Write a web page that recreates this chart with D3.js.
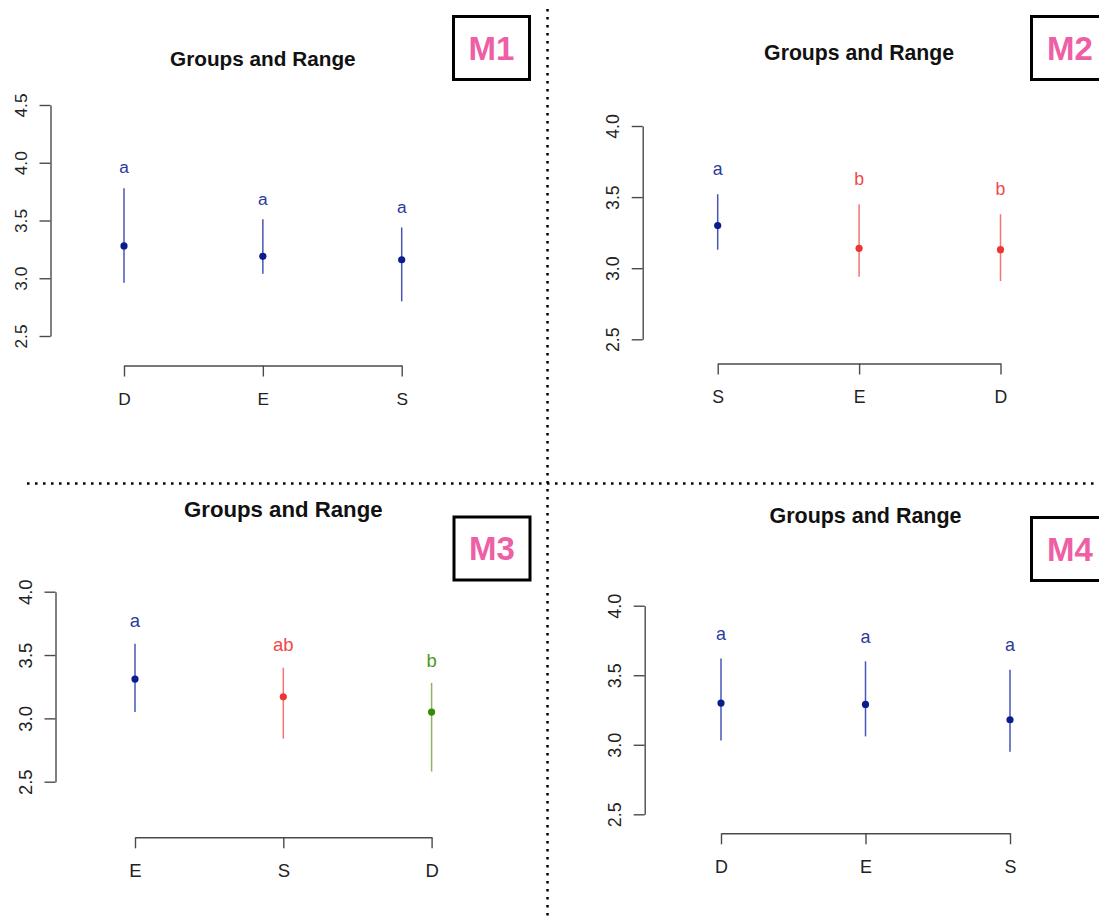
<!DOCTYPE html>
<html>
<head>
<meta charset="utf-8">
<script src="https://cdn.jsdelivr.net/npm/d3@7"></script>
<style>
  body { margin: 0; background: #fff; }
  svg { display: block; font-family: "Liberation Sans", Arial, Helvetica, sans-serif; }
</style>
</head>
<body>
<script>
// ------------------------------------------------ Data ------------------------------------------------ //
var m1_groups = ["D", "E", "S"],
    m1_mean   = [3.28, 3.19, 3.16],
    m1_low    = [2.96, 3.04, 2.80],
    m1_high   = [3.78, 3.51, 3.44],
    m1_letter = ["a", "a", "a"],
    m1_col    = ["blue", "blue", "blue"],
    m1_ticks  = [2.5, 3.0, 3.5, 4.0, 4.5];

var m2_groups = ["S", "E", "D"],
    m2_mean   = [3.30, 3.14, 3.13],
    m2_low    = [3.13, 2.94, 2.91],
    m2_high   = [3.52, 3.45, 3.38],
    m2_letter = ["a", "b", "b"],
    m2_col    = ["blue", "red", "red"],
    m2_ticks  = [2.5, 3.0, 3.5, 4.0];

var m3_groups = ["E", "S", "D"],
    m3_mean   = [3.31, 3.17, 3.05],
    m3_low    = [3.05, 2.84, 2.58],
    m3_high   = [3.59, 3.40, 3.28],
    m3_letter = ["a", "ab", "b"],
    m3_col    = ["blue", "red", "green"],
    m3_ticks  = [2.5, 3.0, 3.5, 4.0];

var m4_groups = ["D", "E", "S"],
    m4_mean   = [3.30, 3.29, 3.18],
    m4_low    = [3.03, 3.06, 2.95],
    m4_high   = [3.62, 3.60, 3.54],
    m4_letter = ["a", "a", "a"],
    m4_col    = ["blue", "blue", "blue"],
    m4_ticks  = [2.5, 3.0, 3.5, 4.0];

var panel_names = ["M1", "M2", "M3", "M4"];
var title_text = "Groups and Range";
var letter_gap = 0.18; // letters sit this far (data units) above the upper end

// ---------------------------------------------- Styles ----------------------------------------------- //
var palette = {
    blue:  {point: "#0b1c8c", whisk: "#4656b4", text: "#2b3b9e"},
    red:   {point: "#ef3434", whisk: "#f27676", text: "#f04848"},
    green: {point: "#3b8a05", whisk: "#8cb568", text: "#4a9a18"}
};

// hand-placed layout of each of the four screenshots
var layout = [
    {axisX: 50.5,  top: 105,   bot: 336,   xAxisY: 365.5, x0: 124,   x1: 401.7,  titleY: 66,    fs: 17.3, box: [453.5, 16.5, 76, 63]},
    {axisX: 642.7, top: 126,   bot: 339.3, xAxisY: 363.5, x0: 717.7, x1: 1000.5, titleY: 60,    fs: 17.7, box: [1031.5, 16.5, 77, 63]},
    {axisX: 55.5,  top: 591.7, bot: 781.7, xAxisY: 837.3, x0: 135,   x1: 431.6,  titleY: 517,   fs: 18.5, box: [454, 517, 76, 63]},
    {axisX: 644.7, top: 605.7, bot: 814.3, xAxisY: 833.3, x0: 721,   x1: 1010,   titleY: 522.5, fs: 17.9, box: [1031.5, 517.5, 77, 63]}
];

var panels = [
    {groups: m1_groups, mean: m1_mean, low: m1_low, high: m1_high, letter: m1_letter, col: m1_col, ticks: m1_ticks},
    {groups: m2_groups, mean: m2_mean, low: m2_low, high: m2_high, letter: m2_letter, col: m2_col, ticks: m2_ticks},
    {groups: m3_groups, mean: m3_mean, low: m3_low, high: m3_high, letter: m3_letter, col: m3_col, ticks: m3_ticks},
    {groups: m4_groups, mean: m4_mean, low: m4_low, high: m4_high, letter: m4_letter, col: m4_col, ticks: m4_ticks}
];

// ---------------------------------------------- Init SVG --------------------------------------------- //
var width = 1099, height = 919;
var svg = d3.select("body").append("svg")
    .attr("width", width)
    .attr("height", height);

// dotted separators
svg.append("line")
    .attr("x1", 27).attr("x2", width)
    .attr("y1", 483.5).attr("y2", 483.5)
    .attr("stroke", "#000").attr("stroke-width", 2.5)
    .attr("stroke-dasharray", "2.5,5.5");
svg.append("line")
    .attr("x1", 547.5).attr("x2", 547.5)
    .attr("y1", 9).attr("y2", height)
    .attr("stroke", "#000").attr("stroke-width", 2.5)
    .attr("stroke-dasharray", "2.5,5.5");

// ------------------------------------------ Draw Functions ------------------------------------------- //
function draw_panel(p, L, name) {
    var g = svg.append("g").attr("class", "panel");

    var x = d3.scalePoint()
        .domain(p.groups)
        .range([L.x0, L.x1]);
    var y = d3.scaleLinear()
        .domain([d3.min(p.ticks), d3.max(p.ticks)])
        .range([L.bot, L.top]);

    // y axis, labels parallel to axis
    var ya = g.append("g")
        .attr("transform", "translate(" + L.axisX + ",0)")
        .call(d3.axisLeft(y)
            .tickValues(p.ticks)
            .tickSize(11)
            .tickSizeOuter(0)
            .tickFormat(d3.format(".1f")));
    ya.selectAll("text")
        .attr("x", null).attr("dy", "0.35em")
        .attr("text-anchor", "middle")
        .attr("transform", "translate(-30,0) rotate(-90)");

    // x axis
    var xa = g.append("g")
        .attr("transform", "translate(0," + L.xAxisY + ")")
        .call(d3.axisBottom(x)
            .tickSize(11)
            .tickSizeOuter(0));
    xa.selectAll("text")
        .attr("y", 33).attr("dy", "0.35em");

    g.selectAll(".domain, .tick line")
        .attr("stroke", "#4a4a4a")
        .attr("stroke-width", 1.4);
    g.selectAll(".tick text")
        .attr("fill", "#222")
        .style("font-size", L.fs + "px")
        .style("font-family", "inherit");

    var idx = d3.range(p.groups.length);

    // whiskers
    g.selectAll("line.whisk")
        .data(idx)
        .enter().append("line")
            .attr("class", "whisk")
            .attr("x1", function(i) { return x(p.groups[i]); })
            .attr("x2", function(i) { return x(p.groups[i]); })
            .attr("y1", function(i) { return y(p.low[i]); })
            .attr("y2", function(i) { return y(p.high[i]); })
            .attr("stroke", function(i) { return palette[p.col[i]].whisk; })
            .attr("stroke-width", 1.5);

    // means
    g.selectAll("circle")
        .data(idx)
        .enter().append("circle")
            .attr("cx", function(i) { return x(p.groups[i]); })
            .attr("cy", function(i) { return y(p.mean[i]); })
            .attr("r", 3.6)
            .attr("fill", function(i) { return palette[p.col[i]].point; });

    // group letters
    g.selectAll("text.letter")
        .data(idx)
        .enter().append("text")
            .attr("class", "letter")
            .attr("x", function(i) { return x(p.groups[i]); })
            .attr("y", function(i) { return y(p.high[i] + letter_gap); })
            .attr("dy", "0.35em")
            .attr("text-anchor", "middle")
            .attr("fill", function(i) { return palette[p.col[i]].text; })
            .style("font-size", L.fs + "px")
            .text(function(i) { return p.letter[i]; });

    // title
    g.append("text")
        .attr("x", (L.x0 + L.x1) / 2)
        .attr("y", L.titleY)
        .attr("text-anchor", "middle")
        .attr("font-weight", "bold")
        .attr("fill", "#111")
        .style("font-size", (L.fs * 1.2) + "px")
        .text(title_text);

    // model tag box
    g.append("rect")
        .attr("x", L.box[0]).attr("y", L.box[1])
        .attr("width", L.box[2]).attr("height", L.box[3])
        .attr("fill", "#fff")
        .attr("stroke", "#000")
        .attr("stroke-width", 3);
    g.append("text")
        .attr("x", L.box[0] + L.box[2] / 2)
        .attr("y", L.box[1] + L.box[3] / 2)
        .attr("dy", "0.36em")
        .attr("text-anchor", "middle")
        .attr("font-weight", "bold")
        .attr("fill", "#ee5fa6")
        .style("font-size", "33px")
        .text(name);
}

// ----------------------------------------------- Main ------------------------------------------------ //
panels.forEach(function(p, k) { draw_panel(p, layout[k], panel_names[k]); });
</script>
</body>
</html>
